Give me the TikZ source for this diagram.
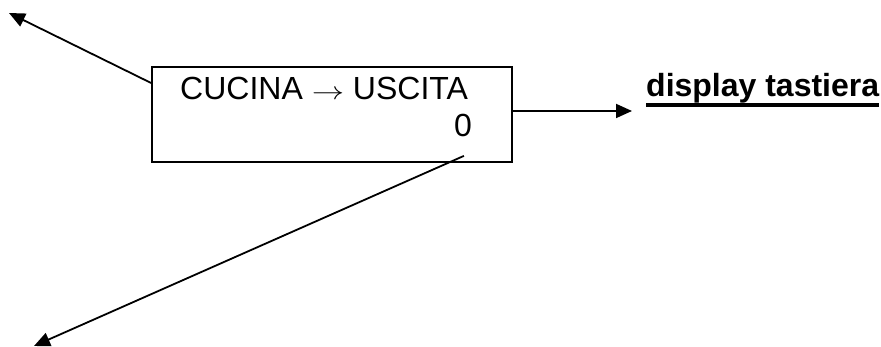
\documentclass[tikz,border=0pt]{standalone}
\usepackage{fontspec}
\setmainfont{Liberation Sans}
\usetikzlibrary{arrows.meta, positioning}

\newcommand{\thickul}[1]{\setbox0\hbox{#1}\rlap{\raisebox{-10pt}{\rule{\wd0}{3.5pt}}}\box0}

\begin{document}
\begin{tikzpicture}[
    x=1pt, y=1pt,
    box/.style={rectangle, draw, line width=1.8pt, minimum width=360pt, minimum height=95pt, inner sep=0pt},
    txt/.style={font=\fontsize{32}{38}\selectfont, inner sep=0pt},
    arrow/.style={-{Triangle[length=16pt,width=14pt]}, line width=1.8pt}
]
\useasboundingbox (0,0) rectangle (881,347);

% Nodes
\node[box] (disp) at (332,232.5) {};
\node[txt, anchor=base west] (route) at (180,247) {CUCINA \scalebox{1.3}[1]{$\rightarrow$} USCITA};
\node[txt, anchor=base east] (count) at (472,210) {0};
\node[txt, anchor=base west, font=\fontsize{32}{38}\selectfont\bfseries] (keypad) at (646,250) {\thickul{display tastiera}};

\coordinate (upleft) at (9,334);
\coordinate (downleft) at (34,1);
\coordinate (keyin) at (632,236);

% Arrows
\draw[arrow] ([yshift=31.5pt]disp.west) -- (upleft);
\draw[arrow] ([yshift=3.5pt]disp.east) -- (keyin);
\draw[arrow] ([shift={(-49pt,7pt)}]disp.south east) -- (downleft);

\end{tikzpicture}
\end{document}
